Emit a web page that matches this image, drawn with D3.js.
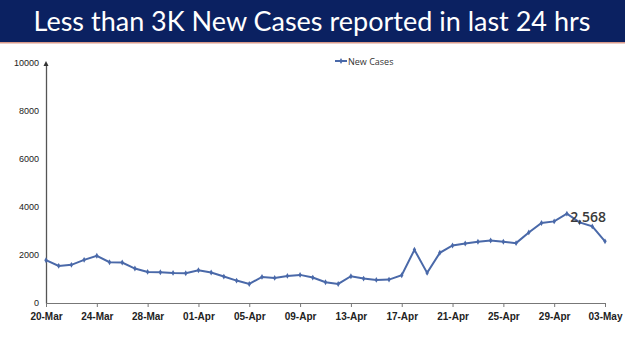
<!DOCTYPE html>
<html>
<head>
<meta charset="utf-8">
<script src="https://cdn.jsdelivr.net/npm/d3@7"></script>
<style>
  body { margin: 0; background: #fff; }
  svg { display: block; }
</style>
</head>
<body>
<svg id="chart" width="625" height="351"></svg>
<script>
// daily new cases, 20-Mar to 03-May
var dates = ["20-Mar","21-Mar","22-Mar","23-Mar","24-Mar","25-Mar","26-Mar","27-Mar","28-Mar","29-Mar","30-Mar","31-Mar",
  "01-Apr","02-Apr","03-Apr","04-Apr","05-Apr","06-Apr","07-Apr","08-Apr","09-Apr","10-Apr","11-Apr","12-Apr",
  "13-Apr","14-Apr","15-Apr","16-Apr","17-Apr","18-Apr","19-Apr","20-Apr","21-Apr","22-Apr","23-Apr","24-Apr",
  "25-Apr","26-Apr","27-Apr","28-Apr","29-Apr","30-Apr","01-May","02-May","03-May"];
var newCases = [1784,1547,1589,1798,1966,1700,1687,1436,1296,1282,1255,1240,
  1366,1268,1101,934,794,1087,1045,1129,1171,1059,864,794,
  1115,1017,962,976,1157,2216,1254,2091,2397,2481,2551,2607,
  2551,2495,2941,3332,3401,3722,3360,3192,2568];
var xTicks = ["20-Mar","24-Mar","28-Mar","01-Apr","05-Apr","09-Apr","13-Apr","17-Apr","21-Apr","25-Apr","29-Apr","03-May"];
var yTicks = [0,2000,4000,6000,8000,10000];

var svg = d3.select("#chart");
var lineColor = "#4a69a9";

// title banner
svg.append("rect").attr("x", 0).attr("y", 0).attr("width", 625).attr("height", 42).attr("fill", "#0b2161");
svg.append("rect").attr("x", 0).attr("y", 42).attr("width", 625).attr("height", 1.5).attr("fill", "#d99a8a");
svg.append("text")
    .attr("x", 312).attr("y", 31)
    .attr("text-anchor", "middle")
    .attr("fill", "#fff")
    .style("font-family", "Lato, 'Open Sans', sans-serif")
    .style("font-size", "27px")
    .text("Less than 3K New Cases reported in last 24 hrs");

// scales
var x = d3.scalePoint().domain(dates).range([46, 605]);
var y = d3.scaleLinear().domain([0, 10000]).range([303, 63]);

// y axis
var yAxis = svg.append("g")
    .attr("transform", "translate(46,0)")
    .call(d3.axisLeft(y).tickValues(yTicks).tickSize(0).tickPadding(7).tickFormat(d3.format("d")));
yAxis.select(".domain").attr("stroke", "#555").attr("stroke-width", 1.3);
yAxis.selectAll("text")
    .attr("fill", "#222")
    .style("font-family", "'Liberation Sans', Arial, sans-serif")
    .style("font-size", "9px");
// little arrow head on top of y axis
svg.append("path")
    .attr("d", "M43.5," + (y(10000) + 3) + "L46," + (y(10000) - 2) + "L48.5," + (y(10000) + 3) + "Z")
    .attr("fill", "#333");

// x axis
var xAxis = svg.append("g")
    .attr("transform", "translate(0,303)")
    .call(d3.axisBottom(x).tickValues(xTicks).tickSizeInner(4).tickSizeOuter(0).tickPadding(6));
xAxis.select(".domain").attr("stroke", "#777").attr("stroke-width", 1);
xAxis.selectAll(".tick line").attr("stroke", "#777");
xAxis.selectAll("text")
    .attr("fill", "#222")
    .style("font-family", "'Liberation Sans', Arial, sans-serif")
    .style("font-weight", "bold")
    .style("font-size", "10px");

// line
var line = d3.line()
    .x(function(d, i) { return x(dates[i]); })
    .y(function(d) { return y(d); });

svg.append("path")
    .datum(newCases)
    .attr("fill", "none")
    .attr("stroke", lineColor)
    .attr("stroke-width", 2)
    .attr("d", line);

svg.selectAll(".pt")
    .data(newCases)
  .enter().append("path")
    .attr("class", "pt")
    .attr("transform", function(d, i) { return "translate(" + x(dates[i]) + "," + y(d) + ")"; })
    .attr("d", d3.symbol().type(d3.symbolDiamond).size(10))
    .attr("fill", lineColor);

// value label for last point
svg.append("text")
    .attr("x", x(dates[dates.length - 1]) + 1)
    .attr("y", 222)
    .attr("text-anchor", "end")
    .attr("fill", "#3a3a3a")
    .style("font-family", "'Open Sans', sans-serif")
    .style("font-weight", "600")
    .style("font-size", "14px")
    .text(d3.format(",")(newCases[newCases.length - 1]));

// legend
var leg = svg.append("g").attr("transform", "translate(335,61)");
leg.append("line").attr("x1", 0).attr("x2", 12).attr("stroke", lineColor).attr("stroke-width", 2);
leg.append("path").attr("transform", "translate(6,0)").attr("d", d3.symbol().type(d3.symbolDiamond).size(10)).attr("fill", lineColor);
leg.append("text")
    .attr("x", 13).attr("y", 3.5)
    .attr("fill", "#333")
    .style("font-family", "'Open Sans', sans-serif")
    .style("font-size", "9px")
    .text("New Cases");
</script>
</body>
</html>
